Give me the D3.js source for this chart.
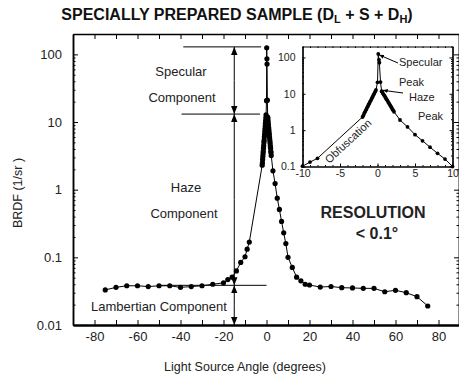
<!DOCTYPE html>
<html><head><meta charset="utf-8">
<script src="https://cdn.jsdelivr.net/npm/d3@7"></script>
<style>
body{margin:0;background:#fff;}
svg{display:block;font-family:"Liberation Sans",Arial,sans-serif;}
</style></head>
<body><svg id="c" width="459" height="379"></svg>
<script>
// ---- data ----
const angles = [-75,-70,-65,-60,-55,-50,-45,-40,-35,-30,-25,-20,-18,-16,-14,-12,-10,-9,-8,
  -2.0,-1.9,-1.8,-1.7,-1.6,-1.5,-1.4,-1.3,-1.2,-1.1,-1.0,-0.9,-0.8,-0.7,-0.6,-0.5,-0.4,-0.3,-0.2,
  0,0.1,0.2,0.25,0.4,0.55,
  0.6,0.7,0.8,0.9,1.0,1.1,1.2,1.3,1.4,1.5,1.6,1.7,1.8,1.9,2.0,2.1,2.2,
  3,4,5,6,7,8,9,10,12,14,16,18,20,25,30,35,40,45,50,55,60,65,70,75];
const brdf = [0.033,0.036,0.038,0.038,0.037,0.038,0.038,0.036,0.037,0.038,0.040,0.042,0.047,0.051,0.063,0.084,0.102,0.132,0.168,
  2.3,2.5,2.8,3.1,3.4,3.7,4.1,4.5,5.0,5.4,6.0,6.5,7.2,7.9,8.7,9.6,10.5,11.6,12.8,
  20.7,125,86,72,21,11.8,
  11.3,10.5,9.7,9.0,8.3,7.7,7.1,6.6,6.0,5.6,5.2,4.8,4.4,4.1,3.7,3.5,3.2,
  1.9,1.23,0.75,0.51,0.34,0.23,0.16,0.1,0.071,0.051,0.045,0.040,0.039,0.0364,0.0371,0.0356,0.0353,0.0348,0.0348,0.031,0.0326,0.030,0.0262,0.0191];
const xMajorTicks = [-80,-60,-40,-20,0,20,40,60,80];
const xTickLabels = ["-80","-60","-40","-20","0","20","40","60","80"];
const xMinorTicks = [-90,-80,-70,-60,-50,-40,-30,-20,-10,0,10,20,30,40,50,60,70,80,90];
const yMajorTicks = [0.01,0.1,1,10,100];
const yTickLabels = ["0.01","0.1","1","10","100"];
const insetXTicks = [-10,-5,0,5,10];
const insetXLabels = ["-10","-5","0","5","10"];
const insetYTicks = [0.1,1,10,100];
const insetYLabels = ["0.1","1","10","100"];
// annotation levels (data units)
const specularLevel = 129, hazeLevel = 13.1, lambertLevel = 0.0386, arrowAngle = -15;

const svg = d3.select("#c");
const x = d3.scaleLinear().domain([-90,90]).range([73,460]);
const y = d3.scaleLog().domain([0.01,200]).range([325,34]);
const pts = angles.map((a,i)=>({a, v:brdf[i]}));

function minorLog(scale){
  const [lo,hi]=scale.domain(); const out=[];
  for(let d=Math.floor(Math.log10(lo)); d<=Math.ceil(Math.log10(hi)); d++){
    for(let k=2;k<=9;k++){const v=k*Math.pow(10,d); if(v>=lo&&v<=hi) out.push(v);}
  }
  return out;
}
function styleAxis(g, sw){
  g.select(".domain").attr("stroke","#000").attr("stroke-width",sw);
  g.selectAll(".tick line").attr("stroke","#000").attr("stroke-width",1);
}

// ---- main axes ----
const gl = svg.append("g").attr("transform","translate(73,0)")
  .call(d3.axisLeft(y).tickValues(yMajorTicks).tickFormat((d,i)=>yTickLabels[i]).tickSizeInner(-5).tickSizeOuter(0).tickPadding(11));
styleAxis(gl,1.5);
gl.selectAll("text").attr("font-size",13).attr("fill","#222");
const glm = svg.append("g").attr("transform","translate(73,0)")
  .call(d3.axisLeft(y).tickValues(minorLog(y)).tickFormat("").tickSizeInner(-2.5).tickSizeOuter(0));
styleAxis(glm,1.5);
const gr = svg.append("g").attr("transform","translate(459,0)")
  .call(d3.axisRight(y).tickValues(yMajorTicks).tickFormat("").tickSizeInner(-5).tickSizeOuter(0));
styleAxis(gr,1.5);
const grm = svg.append("g").attr("transform","translate(459,0)")
  .call(d3.axisRight(y).tickValues(minorLog(y)).tickFormat("").tickSizeInner(-2.5).tickSizeOuter(0));
styleAxis(grm,1.5);
const gb = svg.append("g").attr("transform","translate(0,325)")
  .call(d3.axisBottom(x).tickValues(xMajorTicks).tickFormat((d,i)=>xTickLabels[i]).tickSizeInner(0).tickSizeOuter(0).tickPadding(7));
styleAxis(gb,2);
gb.selectAll("text").attr("font-size",13).attr("fill","#222");
const gbt = svg.append("g").attr("transform","translate(0,325)")
  .call(d3.axisBottom(x).tickValues(xMinorTicks).tickFormat("").tickSizeInner(-5).tickSizeOuter(0));
styleAxis(gbt,2);
const gt = svg.append("g").attr("transform","translate(0,34)")
  .call(d3.axisTop(x).tickValues(xMinorTicks).tickFormat("").tickSizeInner(-5).tickSizeOuter(0));
styleAxis(gt,1.5);

// ---- main data ----
const line = d3.line().x(d=>x(d.a)).y(d=>y(d.v));
svg.append("path").datum(pts).attr("d",line).attr("fill","none").attr("stroke","#000").attr("stroke-width",1);
svg.append("g").selectAll("circle").data(pts).join("circle")
  .attr("cx",d=>x(d.a)).attr("cy",d=>y(d.v)).attr("r",2.6).attr("fill","#000");

// ---- annotations ----
const defs = svg.append("defs");
defs.append("marker").attr("id","ah").attr("viewBox","0 0 10 10").attr("refX",10).attr("refY",5)
  .attr("markerWidth",8).attr("markerHeight",8).attr("markerUnits","userSpaceOnUse").attr("orient","auto")
  .append("path").attr("d","M0,1 L10,5 L0,9 Z").attr("fill","#000");
defs.append("marker").attr("id","ahs").attr("viewBox","0 0 10 10").attr("refX",10).attr("refY",5)
  .attr("markerWidth",5).attr("markerHeight",5).attr("markerUnits","userSpaceOnUse").attr("orient","auto")
  .append("path").attr("d","M0,1 L10,5 L0,9 Z").attr("fill","#000");

const ann = svg.append("g").attr("stroke","#000").attr("stroke-width",1);
ann.append("line").attr("x1",x(-38.7)).attr("x2",x(-2.5)).attr("y1",y(specularLevel)).attr("y2",y(specularLevel));
ann.append("line").attr("x1",x(-39.5)).attr("x2",x(-3)).attr("y1",y(hazeLevel)).attr("y2",y(hazeLevel));
ann.append("line").attr("x1",x(-50)).attr("x2",x(0)).attr("y1",y(lambertLevel)).attr("y2",y(lambertLevel));
const levels = [specularLevel,hazeLevel,lambertLevel,0.01];
for(let i=0;i<3;i++){
  const yt=y(levels[i]), yb=y(levels[i+1]), ym=(yt+yb)/2;
  ann.append("line").attr("x1",x(arrowAngle)).attr("x2",x(arrowAngle)).attr("y1",ym).attr("y2",yt).attr("marker-end","url(#ah)");
  ann.append("line").attr("x1",x(arrowAngle)).attr("x2",x(arrowAngle)).attr("y1",ym).attr("y2",yb).attr("marker-end","url(#ah)");
}
const txt = (t,px,py,opt={})=>svg.append("text").attr("x",px).attr("y",py).attr("text-anchor",opt.anchor||"middle")
  .attr("dominant-baseline","central").attr("font-size",opt.size||13).attr("font-weight",opt.weight||"normal").attr("fill","#222").text(t);
txt("Specular",181,71);
txt("Component",182,97);
txt("Haze",186,187);
txt("Component",184,213);
txt("Lambertian Component",159,306);
txt("RESOLUTION",373,212,{size:16,weight:"bold"});
txt("< 0.1°",377,233,{size:16,weight:"bold"});

// title
const title = svg.append("text").attr("x",237).attr("y",20).attr("text-anchor","middle")
  .attr("font-size",16).attr("font-weight","bold").attr("fill","#111");
title.append("tspan").text("SPECIALLY PREPARED SAMPLE (D");
title.append("tspan").attr("font-size",11).attr("dy",3).text("L");
title.append("tspan").attr("dy",-3).text(" + S + D");
title.append("tspan").attr("font-size",11).attr("dy",3).text("H");
title.append("tspan").attr("dy",-3).text(")");

// axis titles
svg.append("text").attr("transform","translate(18,193) rotate(-90)").attr("text-anchor","middle")
  .attr("dominant-baseline","central").attr("font-size",12.5).attr("fill","#222").text("BRDF (1/sr )");
svg.append("text").attr("x",245).attr("y",367).attr("text-anchor","middle")
  .attr("dominant-baseline","central").attr("font-size",12.5).attr("fill","#222").text("Light Source Angle (degrees)");

// ---- inset ----
const ix = d3.scaleLinear().domain([-10,10]).range([302.5,452.5]);
const iy = d3.scaleLog().domain([0.1,200]).range([166.5,46.5]);
svg.append("rect").attr("x",302.5).attr("y",46.5).attr("width",150).attr("height",120).attr("fill","#fff");
const ipts = pts.filter(d=>d.a>=-10&&d.a<=10);
const iline = d3.line().x(d=>ix(d.a)).y(d=>iy(d.v));
svg.append("path").datum(ipts).attr("d",iline).attr("fill","none").attr("stroke","#000").attr("stroke-width",1);
svg.append("g").selectAll("circle").data(ipts).join("circle")
  .attr("cx",d=>ix(d.a)).attr("cy",d=>iy(d.v)).attr("r",1.9).attr("fill","#000");

const il = svg.append("g").attr("transform","translate(302.5,0)")
  .call(d3.axisLeft(iy).tickValues(insetYTicks).tickFormat((d,i)=>insetYLabels[i]).tickSizeInner(-3).tickSizeOuter(0).tickPadding(7));
styleAxis(il,1.2);
il.selectAll("text").attr("font-size",10.5).attr("fill","#222");
const ilm = svg.append("g").attr("transform","translate(302.5,0)")
  .call(d3.axisLeft(iy).tickValues(minorLog(iy)).tickFormat("").tickSizeInner(-1.5).tickSizeOuter(0));
styleAxis(ilm,1.2);
const ir = svg.append("g").attr("transform","translate(452.5,0)")
  .call(d3.axisRight(iy).tickValues(insetYTicks).tickFormat("").tickSizeInner(-3).tickSizeOuter(0));
styleAxis(ir,1.2);
const irm = svg.append("g").attr("transform","translate(452.5,0)")
  .call(d3.axisRight(iy).tickValues(minorLog(iy)).tickFormat("").tickSizeInner(-1.5).tickSizeOuter(0));
styleAxis(irm,1.2);
const ib = svg.append("g").attr("transform","translate(0,166.5)")
  .call(d3.axisBottom(ix).tickValues(insetXTicks).tickFormat((d,i)=>insetXLabels[i]).tickSizeInner(-3).tickSizeOuter(0).tickPadding(3));
styleAxis(ib,1.2);
ib.selectAll("text").attr("font-size",10.5).attr("fill","#222");
const ibm = svg.append("g").attr("transform","translate(0,166.5)")
  .call(d3.axisBottom(ix).tickValues(d3.range(-10,10.5,1)).tickFormat("").tickSizeInner(-1.5).tickSizeOuter(0));
styleAxis(ibm,1.2);
const it = svg.append("g").attr("transform","translate(0,46.5)")
  .call(d3.axisTop(ix).tickValues(d3.range(-10,10.5,1)).tickFormat("").tickSizeInner(-1.5).tickSizeOuter(0));
styleAxis(it,1.2);

// inset annotations
const ia = svg.append("g").attr("stroke","#000").attr("stroke-width",1);
ia.append("line").attr("x1",398).attr("y1",63).attr("x2",ix(0.2)).attr("y2",iy(118)).attr("marker-end","url(#ahs)");
ia.append("line").attr("x1",403).attr("y1",93).attr("x2",ix(0.7)).attr("y2",iy(12.5)).attr("marker-end","url(#ahs)");
txt("Specular",399,62,{size:11,anchor:"start"});
txt("Peak",399,82,{size:11,anchor:"start"});
txt("Haze",409,97,{size:11,anchor:"start"});
txt("Peak",418,116,{size:11,anchor:"start"});
svg.append("text").attr("transform","translate(348,141) rotate(-43)").attr("text-anchor","middle")
  .attr("dominant-baseline","central").attr("font-size",11).attr("fill","#222").text("Obfuscation");
</script></body></html>
